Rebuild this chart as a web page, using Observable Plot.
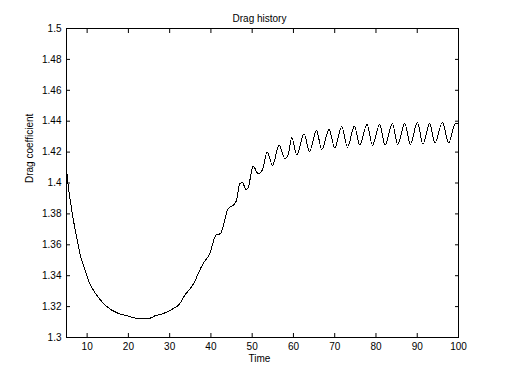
<!DOCTYPE html>
<html>
<head>
<meta charset="utf-8">
<script src="https://cdn.jsdelivr.net/npm/d3@7"></script>
<script src="https://cdn.jsdelivr.net/npm/@observablehq/plot@0.6"></script>
<style>
  html, body { margin: 0; padding: 0; background: #fff; }
  #chart svg { display: block; }
</style>
</head>
<body>
<div id="chart"></div>
<script>
const title = "Drag history";
const xLabel = "Time";
const yLabel = "Drag coefficient";

const time = [
  5, 5.2, 5.36, 6.02, 6.82, 7.61, 8.44, 9.24, 10.45, 11.66, 13.28, 14.88, 17.3, 19.72,
  21.76, 23.5, 25.22, 26.43, 28.44, 30.47, 32.48, 33.69, 35.32, 36.11, 36.91, 38.12,
  39.74, 41.2, 42.34, 44.18, 45.39, 46.21, 47.01, 47.66, 48.46, 49.02, 50.23, 51.44,
  52.51, 53.62, 54.93, 56.53, 57.91, 58.71, 59.6, 60.81, 62.58, 63.89, 65.58, 66.86,
  68.63, 70.01, 71.71, 73.09, 74.78, 76.07, 77.83, 79.14, 80.91, 82.19, 83.98, 85.27,
  86.96, 88.34, 90.04, 91.39, 93.01, 94.3, 96.09, 97.62, 99.24, 100
];
const dragCoefficient = [
  1.4093, 1.4035, 1.3997, 1.3867, 1.3738, 1.363, 1.3522, 1.3457, 1.336, 1.33, 1.3241, 1.3198, 1.3159, 1.314,
  1.3125, 1.3121, 1.3125, 1.314, 1.3155, 1.3181, 1.322, 1.3274, 1.3328, 1.3364, 1.3414, 1.3479,
  1.3544, 1.3662, 1.3673, 1.3835, 1.3856, 1.3888, 1.3997, 1.4003, 1.3958, 1.397, 1.4109, 1.4061,
  1.4087, 1.4201, 1.4115, 1.4245, 1.4159, 1.418, 1.4294, 1.4184, 1.4318, 1.4204, 1.434, 1.4217,
  1.4346, 1.4227, 1.4366, 1.4232, 1.4368, 1.4245, 1.4379, 1.4245, 1.4379, 1.4245, 1.4385, 1.4249,
  1.4385, 1.4251, 1.4392, 1.4251, 1.4385, 1.426, 1.4392, 1.426, 1.4385, 1.438
];

const xTicks = [10, 20, 30, 40, 50, 60, 70, 80, 90, 100];
const yTicks = [1.3, 1.32, 1.34, 1.36, 1.38, 1.4, 1.42, 1.44, 1.46, 1.48, 1.5];
const yTickLabels = ["1.3", "1.32", "1.34", "1.36", "1.38", "1.4", "1.42", "1.44", "1.46", "1.48", "1.5"];

const data = time.map((t, i) => ({ t, v: dragCoefficient[i] }));
const yFmt = d => yTickLabels[yTicks.findIndex(y => Math.abs(y - d) < 1e-9)];

const chart = Plot.plot({
  width: 506,
  height: 380,
  marginLeft: 66,
  marginRight: 48,
  marginTop: 28,
  marginBottom: 43,
  style: { fontFamily: "'Liberation Sans', Arial, sans-serif", fontSize: "10px", background: "#fff", color: "#000" },
  x: { domain: [5, 100], label: null },
  y: { domain: [1.3, 1.5], label: null },
  marks: [
    Plot.line(data, { x: "t", y: "v", stroke: "#000", strokeWidth: 1, curve: "monotone-x", shapeRendering: "crispEdges" }),
    Plot.frame({ stroke: "#000" }),
    Plot.axisX(xTicks, { anchor: "bottom", tickSize: -4, fill: "none", label: null, stroke: "#000" }),
    Plot.axisX(xTicks, { anchor: "bottom", tickSize: 0, tickPadding: 5, label: null, fill: "#000" }),
    Plot.axisX(xTicks, { anchor: "top", tickSize: -4, fill: "none", label: null, stroke: "#000" }),
    Plot.axisY(yTicks, { anchor: "left", tickSize: -4, fill: "none", label: null, stroke: "#000" }),
    Plot.axisY(yTicks, { anchor: "left", tickSize: 0, tickPadding: 5, label: null, fill: "#000", tickFormat: yFmt }),
    Plot.axisY(yTicks, { anchor: "right", tickSize: -4, fill: "none", label: null, stroke: "#000" }),
    Plot.text([title], { text: d => d, frameAnchor: "top", dx: -3, dy: -13.2, fill: "#000" }),
    Plot.text([xLabel], { text: d => d, frameAnchor: "bottom", dx: -3, dy: 24.8, fill: "#000" }),
    Plot.text([yLabel], { text: d => d, frameAnchor: "left", rotate: -90, dx: -36.5, fill: "#000" })
  ]
});
document.getElementById("chart").append(chart);
</script>
</body>
</html>
